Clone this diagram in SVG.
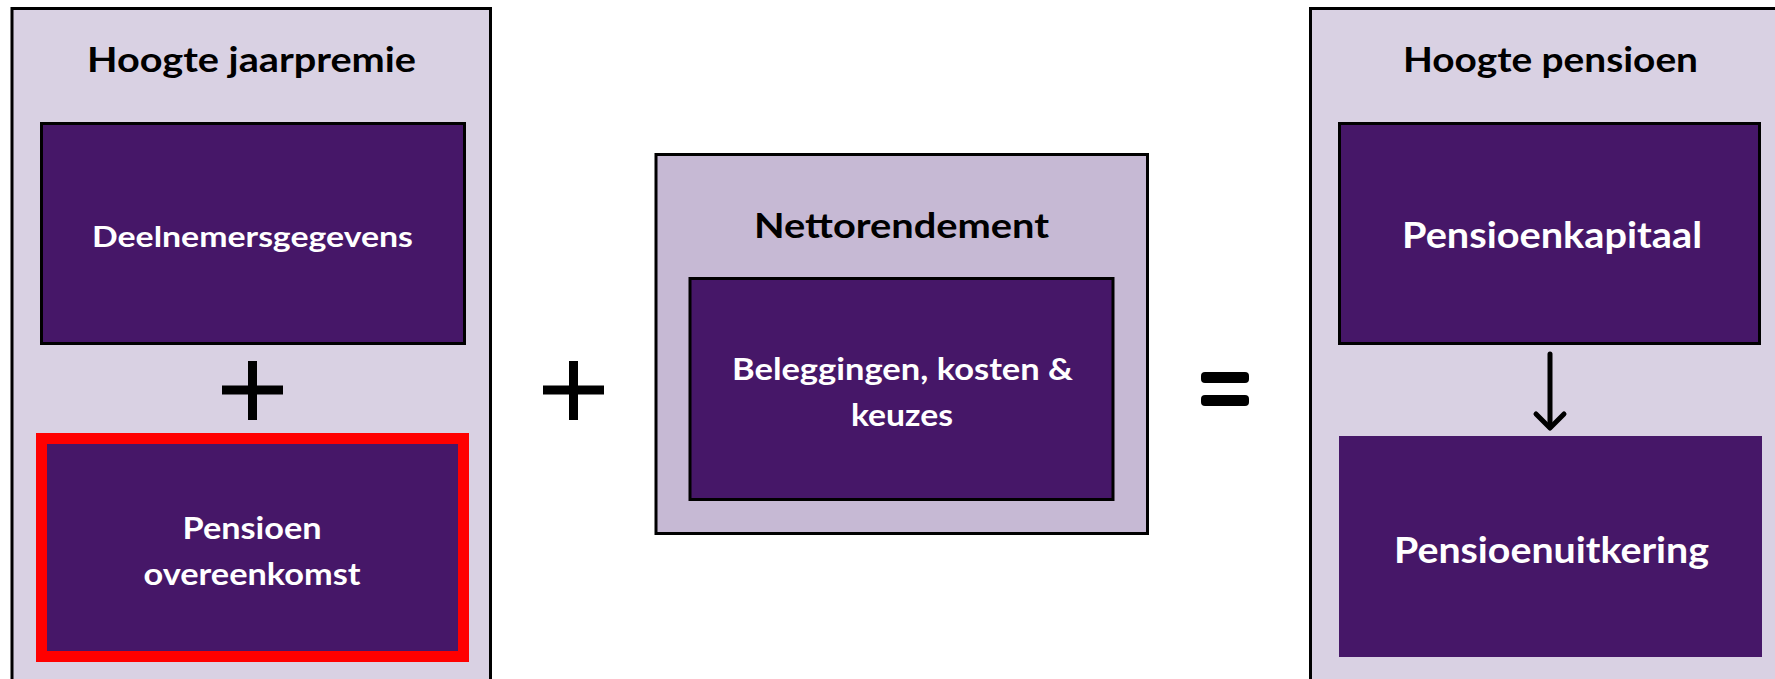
<svg xmlns="http://www.w3.org/2000/svg" width="1775" height="679" viewBox="0 0 1775 679">
  <style>
    .outer { fill: #D9D1E3; stroke: #000; stroke-width: 3; }
    .outer2 { fill: #C6B9D4; stroke: #000; stroke-width: 3; }
    .inner { fill: #461768; stroke: #000; stroke-width: 3; }
    .plain { fill: #461768; }
    .hl { fill: #461768; stroke: #FF0000; stroke-width: 11; }
    .title { font-family: Lato, "Open Sans", "Liberation Sans", sans-serif; font-weight: bold; fill: #000; text-anchor: middle; }
    .label { font-family: Lato, "Open Sans", "Liberation Sans", sans-serif; font-weight: bold; fill: #FFFFFF; text-anchor: middle; }
    .op { fill: #000; }
    .conn { stroke: #000; stroke-width: 5; fill: none; stroke-linecap: round; stroke-linejoin: round; }
  </style>
  <rect width="1775" height="679" fill="#FFFFFF"/>

  <g id="hoogte-jaarpremie">
    <rect class="outer" x="12" y="8.5" width="478.5" height="700"/>
    <text class="title" x="251.5" y="72" font-size="35" textLength="329" lengthAdjust="spacingAndGlyphs">Hoogte jaarpremie</text>
  </g>
  <g id="deelnemersgegevens">
    <rect class="inner" x="41.5" y="123.5" width="423" height="220"/>
    <text class="label" x="252.5" y="247" font-size="29" textLength="321" lengthAdjust="spacingAndGlyphs">Deelnemersgegevens</text>
  </g>
  <g id="pensioenovereenkomst">
    <rect class="hl" x="41.5" y="438.5" width="422" height="218"/>
    <text class="label" x="252" y="539" font-size="30" textLength="139" lengthAdjust="spacingAndGlyphs">Pensioen</text>
    <text class="label" x="252" y="585" font-size="30" textLength="217" lengthAdjust="spacingAndGlyphs">overeenkomst</text>
  </g>

  <g id="nettorendement">
    <rect class="outer2" x="656" y="154.5" width="491.5" height="379"/>
    <text class="title" x="901.5" y="237.5" font-size="35" textLength="295" lengthAdjust="spacingAndGlyphs">Nettorendement</text>
  </g>
  <g id="beleggingen">
    <rect class="inner" x="690" y="278.5" width="423" height="221"/>
    <text class="label" x="902.5" y="379.5" font-size="30" textLength="341" lengthAdjust="spacingAndGlyphs">Beleggingen, kosten &amp;</text>
    <text class="label" x="902" y="426" font-size="30" textLength="102" lengthAdjust="spacingAndGlyphs">keuzes</text>
  </g>

  <g id="hoogte-pensioen">
    <rect class="outer" x="1310.5" y="8.5" width="500" height="700"/>
    <text class="title" x="1550.5" y="72" font-size="35" textLength="295" lengthAdjust="spacingAndGlyphs">Hoogte pensioen</text>
  </g>
  <g id="pensioenkapitaal">
    <rect class="inner" x="1339.5" y="123.5" width="420" height="220"/>
    <text class="label" x="1552" y="248" font-size="36" textLength="300" lengthAdjust="spacingAndGlyphs">Pensioenkapitaal</text>
  </g>
  <g id="pensioenuitkering">
    <rect class="plain" x="1339" y="436" width="423" height="221"/>
    <text class="label" x="1551.5" y="563" font-size="37" textLength="315" lengthAdjust="spacingAndGlyphs">Pensioenuitkering</text>
  </g>

  <g id="operators">
    <rect class="op" x="222" y="385.5" width="61" height="9"/>
    <rect class="op" x="248" y="361" width="9" height="59"/>
    <rect class="op" x="543" y="385.5" width="61" height="9"/>
    <rect class="op" x="569" y="361" width="9" height="59"/>
    <rect class="op" x="1201" y="372" width="48" height="11" rx="4"/>
    <rect class="op" x="1201" y="395" width="48" height="11" rx="4"/>
  </g>

  <g id="connectors">
    <path class="conn" d="M1550 354 L1550 427"/>
    <path class="conn" d="M1536 414 L1550 428 L1564 414"/>
  </g>
</svg>
